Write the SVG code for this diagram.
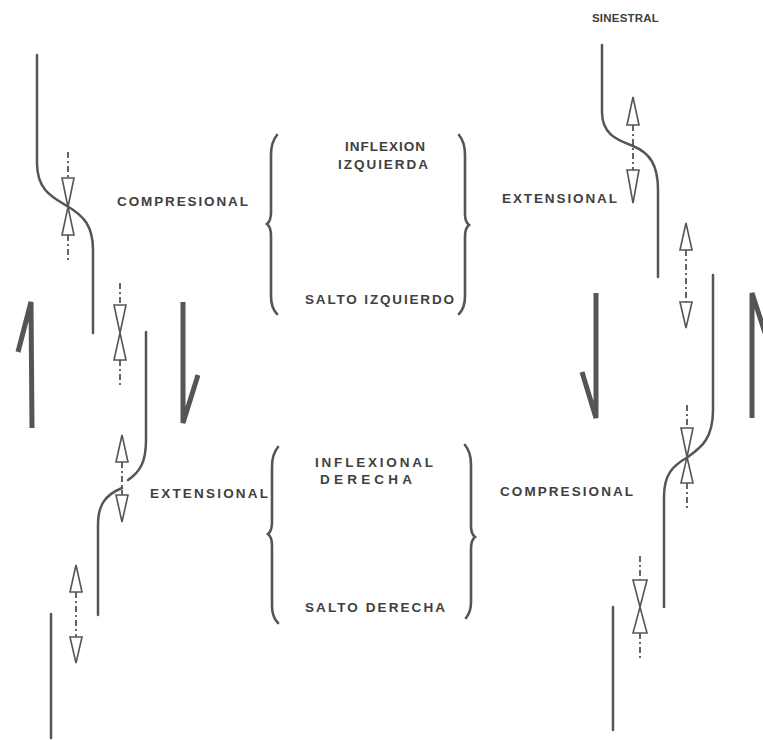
<svg xmlns="http://www.w3.org/2000/svg" width="763" height="740" viewBox="0 0 763 740">
<style>
.bg{fill:#ffffff}
.fault{fill:none;stroke:#555;stroke-width:2.5;stroke-linecap:round}
.big{fill:none;stroke:#555;stroke-width:5;stroke-linejoin:miter;stroke-linecap:butt}
.brace{fill:none;stroke:#555;stroke-width:2.6;stroke-linecap:round}
.tri{fill:#fff;stroke:#555;stroke-width:1.6;stroke-linejoin:miter}
.axis{fill:none;stroke:#555;stroke-width:1.8;stroke-dasharray:6 3 2 3}
.lbl{font-family:"Liberation Sans",Arial,sans-serif;font-weight:bold;font-size:13.5px;fill:#404040}
.sm{font-size:11.5px;letter-spacing:0.2px}
</style>
<rect class="bg" x="0" y="0" width="763" height="740"/>
<g id="connectors">
  <path class="axis" d="M68,152 V178 M68,235 V262"/>
  <path class="axis" d="M120,283 V305 M120,360 V386"/>
  <path class="axis" d="M122,462 V495"/>
  <path class="axis" d="M76,592 V637"/>
  <path class="axis" d="M633,125 V170"/>
  <path class="axis" d="M686,250 V302"/>
  <path class="axis" d="M687,405 V428 M687,483 V510"/>
  <path class="axis" d="M640,556 V580 M640,633 V658"/>
</g>
<g id="faults">
  <g id="fault-left-top"><path class="fault" d="M37,55 L37,163 C37,190 52,197 67,206 C84,216 93,226 93,250 L93,333"/></g>
  <g id="fault-left-mid"><path class="fault" d="M146,332 L146,440 C146,462 140,472 128,480"/><path class="fault" d="M122,488 C105,495 98,505 98,525 L98,615"/></g>
  <g id="fault-left-bottom"><path class="fault" d="M51,614 L51,738"/></g>
  <g id="fault-right-top"><path class="fault" d="M602,45 L602,112 C602,135 618,140 633,146 C650,153 658,165 658,190 L658,277"/></g>
  <g id="fault-right-mid"><path class="fault" d="M713,275 L713,410 C713,440 700,448 688,457 C672,466 664,475 664,497 L664,607"/></g>
  <g id="fault-right-bottom"><path class="fault" d="M613,607 L613,730"/></g>
</g>
<g id="stress-symbols">
  <g id="bowtie-left-top"><path class="tri" d="M62,178 L74,178 L68,207 Z"/><path class="tri" d="M62,235 L74,235 L68,207 Z"/></g>
  <g id="bowtie-left-2"><path class="tri" d="M114,305 L126,305 L120,333 Z"/><path class="tri" d="M114,360 L126,360 L120,333 Z"/></g>
  <g id="ext-left-mid"><path class="tri" d="M116,462 L128,462 L122,435 Z"/><path class="tri" d="M116,495 L128,495 L122,522 Z"/></g>
  <g id="ext-left-bottom"><path class="tri" d="M70,592 L82,592 L76,565 Z"/><path class="tri" d="M70,637 L82,637 L76,663 Z"/></g>
  <g id="ext-right-top"><path class="tri" d="M627,125 L639,125 L633,97 Z"/><path class="tri" d="M627,170 L639,170 L633,203 Z"/></g>
  <g id="ext-right-2"><path class="tri" d="M680,250 L692,250 L686,223 Z"/><path class="tri" d="M680,302 L692,302 L686,328 Z"/></g>
  <g id="bowtie-right-mid"><path class="tri" d="M681,428 L693,428 L687,457 Z"/><path class="tri" d="M681,483 L693,483 L687,457 Z"/></g>
  <g id="bowtie-right-bottom"><path class="tri" d="M633,580 L647,580 L640,607 Z"/><path class="tri" d="M633,633 L647,633 L640,607 Z"/></g>
</g>
<g id="motion-arrows">
  <g id="arrow-left-up"><path class="big" d="M18,352 L31,302 L32,428"/></g>
  <g id="arrow-midleft-down"><path class="big" d="M183,302 L183,423 L198,375"/></g>
  <g id="arrow-midright-down"><path class="big" d="M596,293 L596,418 L582,372"/></g>
  <g id="arrow-right-up"><path class="big" d="M768,342 L752,293 L752,418"/></g>
</g>
<g id="brace-top">
  <path class="brace" d="M277,135 Q271,142 271,155 L271,212 Q271,221 267,224 Q271,227 271,236 L271,296 Q271,308 277,314"/>
  <path class="brace" d="M459,135 Q465,142 465,155 L465,214 Q465,222 469,225 Q465,228 465,237 L465,296 Q465,308 459,314"/>
  <text class="lbl" x="345" y="151" textLength="80" lengthAdjust="spacing">INFLEXION</text>
  <text class="lbl" x="338" y="169" textLength="90" lengthAdjust="spacing">IZQUIERDA</text>
  <text class="lbl" x="305" y="304" textLength="149" lengthAdjust="spacing">SALTO IZQUIERDO</text>
</g>
<g id="brace-bottom">
  <path class="brace" d="M278,447 Q272,454 272,467 L272,522 Q272,531 268,534 Q272,537 272,546 L272,606 Q272,617 278,623"/>
  <path class="brace" d="M465,445 Q471,452 471,465 L471,526 Q471,534 475,537 Q471,540 471,549 L471,602 Q471,612 466,618"/>
  <text class="lbl" x="315" y="467" textLength="118" lengthAdjust="spacing">INFLEXIONAL</text>
  <text class="lbl" x="320" y="484" textLength="92" lengthAdjust="spacing">DERECHA</text>
  <text class="lbl" x="305" y="612" textLength="140" lengthAdjust="spacing">SALTO DERECHA</text>
</g>
<g id="labels">
  <text class="lbl sm" x="592" y="22">SINESTRAL</text>
  <text class="lbl" x="117" y="206" textLength="131" lengthAdjust="spacing">COMPRESIONAL</text>
  <text class="lbl" x="502" y="203" textLength="115" lengthAdjust="spacing">EXTENSIONAL</text>
  <text class="lbl" x="150" y="498" textLength="118" lengthAdjust="spacing">EXTENSIONAL</text>
  <text class="lbl" x="500" y="496" textLength="133" lengthAdjust="spacing">COMPRESIONAL</text>
</g>
</svg>
